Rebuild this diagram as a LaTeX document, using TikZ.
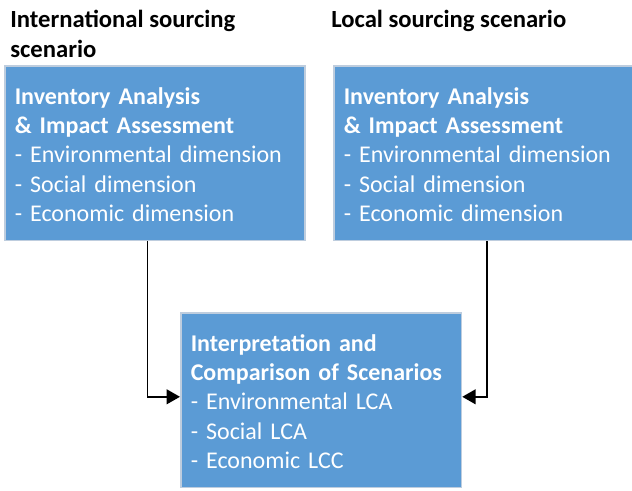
\documentclass[tikz,border=0pt]{standalone}
\usepackage{fontspec}
\setmainfont{Carlito}
\usetikzlibrary{arrows.meta}

\definecolor{boxblue}{RGB}{91,155,213}
\definecolor{boxedge}{RGB}{190,205,222}

\tikzset{
  stagebox/.style={draw=boxedge, line width=1.2pt, fill=boxblue, text=white,
    anchor=north west, align=left, text width=#1, inner xsep=7.5pt, inner ysep=0pt,
    font=\fontsize{18}{22}\selectfont},
  headline/.style={anchor=north west, inner sep=0pt, align=left,
    font=\bfseries\fontsize{18.5}{22.5}\selectfont},
  feed/.style={line width=1.4pt, -{Triangle[length=10pt,width=11pt]}}
}

\begin{document}
\begin{tikzpicture}[x=0.75pt,y=0.75pt,yscale=-1,xscale=1]
\useasboundingbox (0,0) rectangle (632,490);

% Text Node
\node [headline] (inttitle) at (10,10) {International sourcing\\scenario};
% Text Node
\node [headline] (loctitle) at (331,10) {Local sourcing scenario};

%Shape: Rectangle
\node [stagebox=210pt, minimum height=131pt] (intbox) at (4,65)
  {\rule{0pt}{14.5pt}\textbf{Inventory Analysis}\\
   \textbf{\& Impact Assessment}\\
   - Environmental dimension\\
   - Social dimension\\
   - Economic dimension};
%Shape: Rectangle
\node [stagebox=210pt, minimum height=131pt] (locbox) at (333,65)
  {\rule{0pt}{14.5pt}\textbf{Inventory Analysis}\\
   \textbf{\& Impact Assessment}\\
   - Environmental dimension\\
   - Social dimension\\
   - Economic dimension};
%Shape: Rectangle
\node [stagebox=195.5pt, minimum height=131pt] (compbox) at (180,312)
  {\rule{0pt}{14.5pt}\textbf{Interpretation and}\\
   \textbf{Comparison of Scenarios}\\
   - Environmental LCA\\
   - Social LCA\\
   - Economic LCC};

% Connection
\draw [feed] ([xshift=-5.5pt]intbox.south) |- ([yshift=-2.5pt]compbox.west);
% Connection
\draw [feed] ([xshift=2.5pt]locbox.south) |- ([yshift=-2.5pt]compbox.east);

\end{tikzpicture}
\end{document}
